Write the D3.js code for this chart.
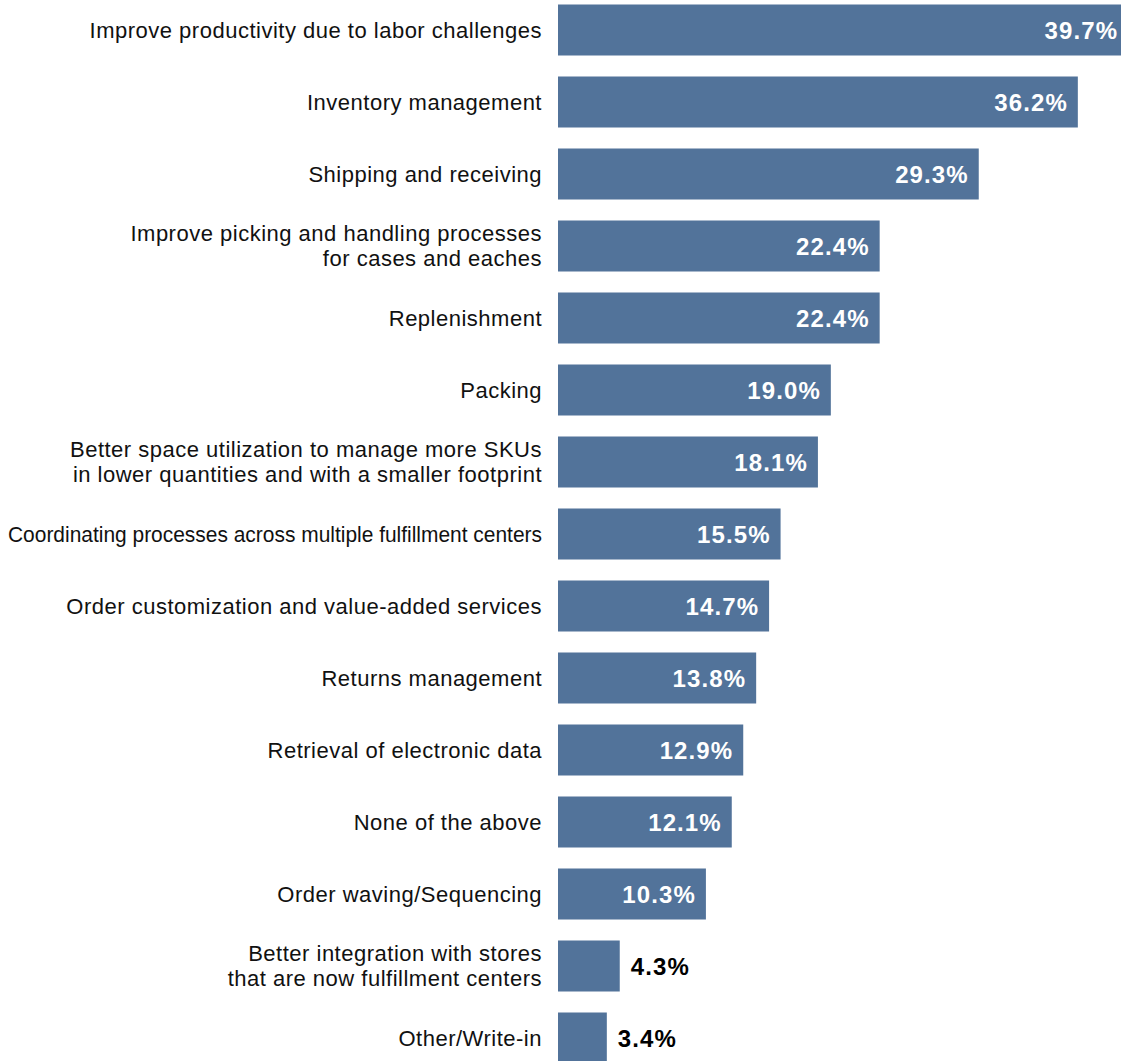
<!DOCTYPE html>
<html>
<head>
<meta charset="utf-8">
<script src="https://cdn.jsdelivr.net/npm/d3@7"></script>
<style>
  html, body { margin: 0; padding: 0; background: #fff; }
  svg { display: block; }
</style>
</head>
<body>
<svg id="chart" width="1121" height="1061"></svg>
<script>
// Survey answers, each label split into display lines
const categories = [
  ["Improve productivity due to labor challenges"],
  ["Inventory management"],
  ["Shipping and receiving"],
  ["Improve picking and handling processes", "for cases and eaches"],
  ["Replenishment"],
  ["Packing"],
  ["Better space utilization to manage more SKUs", "in lower quantities and with a smaller footprint"],
  ["Coordinating processes across multiple fulfillment centers"],
  ["Order customization and value-added services"],
  ["Returns management"],
  ["Retrieval of electronic data"],
  ["None of the above"],
  ["Order waving/Sequencing"],
  ["Better integration with stores", "that are now fulfillment centers"],
  ["Other/Write-in"]
];
const values = [39.7, 36.2, 29.3, 22.4, 22.4, 19.0, 18.1, 15.5, 14.7, 13.8, 12.9, 12.1, 10.3, 4.3, 3.4];

const svg = d3.select("#chart");
const keys = categories.map(d => d.join(" "));

const x = d3.scaleLinear().domain([0, 40]).range([558, 558 + 574.4]);
const y = d3.scaleBand()
  .domain(keys)
  .range([-6, 1074])
  .paddingInner(21 / 72)
  .paddingOuter(10.5 / 72);

const labelRight = x(0) - 16;
const labelMaxWidth = labelRight - 8;

const rows = svg.selectAll("g.row")
  .data(keys.map((k, i) => ({ key: k, lines: categories[i], value: values[i] })))
  .join("g")
  .attr("class", "row");

rows.append("rect")
  .attr("x", x(0))
  .attr("y", d => y(d.key))
  .attr("width", d => x(d.value) - x(0))
  .attr("height", y.bandwidth())
  .attr("fill", "#52739a");

// Category labels, right-aligned to the left of the bars;
// lines too long for the margin are condensed to fit
rows.append("text")
  .attr("y", d => y(d.key) + y.bandwidth() / 2)
  .attr("text-anchor", "end")
  .attr("font-family", "Liberation Sans, Arial, Helvetica, sans-serif")
  .attr("font-size", 22)
  .attr("letter-spacing", "0.5px")
  .attr("fill", "#111")
  .each(function(d) {
    const t = d3.select(this);
    const n = d.lines.length;
    d.lines.forEach((line, j) => {
      const span = t.append("tspan")
        .attr("x", labelRight)
        .attr("dy", j === 0 ? `${0.35 - (n - 1) * 0.57}em` : "1.14em")
        .text(line);
      const w = span.node().getComputedTextLength();
      if (w > labelMaxWidth) {
        span.attr("letter-spacing", "0px")
          .attr("textLength", labelMaxWidth)
          .attr("lengthAdjust", "spacingAndGlyphs");
      }
    });
  });

// Value labels: inside the bar in white, outside in black for short bars
const fmt = d3.format(".1f");
rows.append("text")
  .attr("x", d => d.value < 5 ? x(d.value) + 11 : x(d.value) - 10)
  .attr("y", d => y(d.key) + y.bandwidth() / 2)
  .attr("dy", "0.36em")
  .attr("text-anchor", d => d.value < 5 ? "start" : "end")
  .attr("font-family", "Liberation Sans, Arial, Helvetica, sans-serif")
  .attr("font-weight", "bold")
  .attr("font-size", 24)
  .attr("letter-spacing", "1.1px")
  .attr("fill", d => d.value < 5 ? "#000" : "#fff")
  .text(d => fmt(d.value) + "%");
</script>
</body>
</html>
